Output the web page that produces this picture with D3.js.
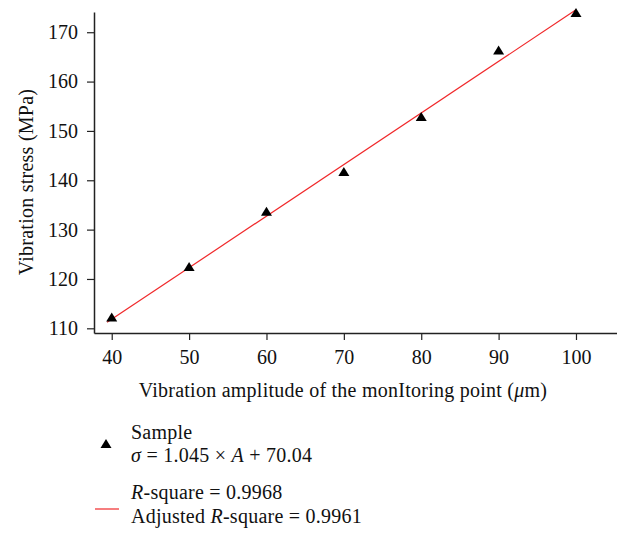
<!DOCTYPE html>
<html>
<head>
<meta charset="utf-8">
<script src="https://cdn.jsdelivr.net/npm/d3@7"></script>
<style>
  html, body { margin: 0; padding: 0; background: #fff; }
  svg { display: block; }
  .axis path, .axis line { stroke: #222; }
  .axis path { stroke-width: 1.5; }
  .title, .leg { font-size: 20px; fill: #111; letter-spacing: 0.25px; }
</style>
</head>
<body>
<svg id="chart"></svg>
<script>
const W = 617, H = 535;
const SERIF = '"Liberation Serif", "DejaVu Serif", serif';

// data
const amplitude = [40, 50, 60, 70, 80, 90, 100];
const stress = [112.2, 122.4, 133.6, 141.7, 152.8, 166.3, 173.9];
const xTicks = [40, 50, 60, 70, 80, 90, 100];
const yTicks = [110, 120, 130, 140, 150, 160, 170];
const fitSlope = 1.045, fitIntercept = 70.04;
const fitRange = [39.4, 100];

const svg = d3.select('#chart').attr('width', W).attr('height', H)
  .attr('font-family', SERIF);

const x = d3.scaleLinear().domain([37.71, 105.3]).range([94, 617]);
const y = d3.scaleLinear().domain([109.05, 174.1]).range([333, 12]);

function styleAxis(g) {
  g.attr('font-family', SERIF).attr('font-size', 20);
  g.selectAll('.tick line').attr('stroke-width', 1.2);
  g.selectAll('.tick text').attr('fill', '#111');
}

// axes
svg.append('g').attr('class', 'axis').attr('transform', 'translate(0,333)')
  .call(d3.axisBottom(x).tickValues(xTicks).tickSizeInner(7).tickSizeOuter(0).tickPadding(10))
  .call(styleAxis);

svg.append('g').attr('class', 'axis').attr('transform', 'translate(94,0)')
  .call(d3.axisLeft(y).tickValues(yTicks).tickSizeInner(7).tickSizeOuter(0).tickPadding(9))
  .call(styleAxis);

// fit line
svg.append('line')
  .attr('x1', x(fitRange[0])).attr('y1', y(fitSlope * fitRange[0] + fitIntercept))
  .attr('x2', x(fitRange[1])).attr('y2', y(fitSlope * fitRange[1] + fitIntercept))
  .attr('stroke', '#f0282a').attr('stroke-width', 1.2);

// sample triangles
const tri = 'M0,-5L5.5,4L-5.5,4Z';
svg.append('g').selectAll('path').data(amplitude).join('path')
  .attr('d', tri)
  .attr('transform', (d, i) => `translate(${x(d)},${y(stress[i])})`)
  .attr('fill', '#000');

// axis titles
svg.append('text').attr('class', 'title')
  .attr('x', 343).attr('y', 397).attr('text-anchor', 'middle')
  .html('Vibration amplitude of the monItoring point (<tspan font-style="italic">μ</tspan>m)');

svg.append('text').attr('class', 'title')
  .attr('transform', 'translate(33,182) rotate(-90)').attr('text-anchor', 'middle')
  .text('Vibration stress (MPa)');

// legend
const leg = svg.append('g');
leg.append('path').attr('d', tri).attr('transform', 'translate(106,444)').attr('fill', '#000');
leg.append('text').attr('class', 'leg').attr('x', 131).attr('y', 439).text('Sample');
leg.append('text').attr('class', 'leg').attr('x', 131).attr('y', 462)
  .html('<tspan font-style="italic">σ</tspan> = 1.045 × <tspan font-style="italic">A</tspan> + 70.04');
leg.append('line').attr('x1', 95).attr('x2', 119).attr('y1', 509).attr('y2', 509)
  .attr('stroke', '#f0282a').attr('stroke-width', 1.2);
leg.append('text').attr('class', 'leg').attr('x', 131).attr('y', 499)
  .html('<tspan font-style="italic">R</tspan>-square = 0.9968');
leg.append('text').attr('class', 'leg').attr('x', 131).attr('y', 523)
  .html('Adjusted <tspan font-style="italic">R</tspan>-square = 0.9961');
</script>
</body>
</html>
